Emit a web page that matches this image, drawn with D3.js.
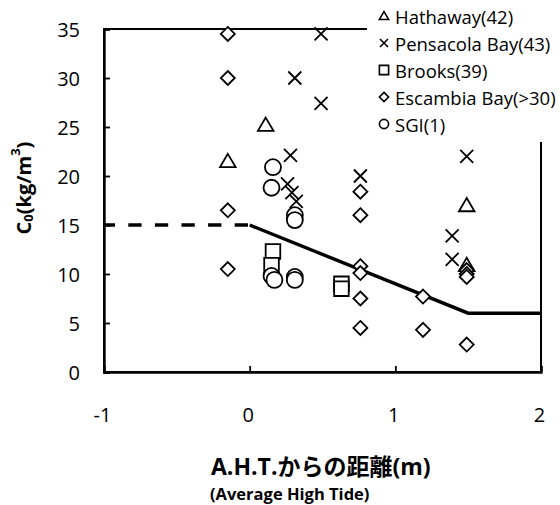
<!DOCTYPE html>
<html>
<head>
<meta charset="utf-8">
<script src="https://cdn.jsdelivr.net/npm/d3@7"></script>
<style>
  html, body { margin: 0; padding: 0; background: #fff; }
  svg { display: block; }
  text { font-family: "Open Sans", "Noto Sans CJK JP", sans-serif; fill: #000; }
</style>
</head>
<body>
<svg id="chart" width="560" height="505"></svg>
<script>
// Observed chloride content C0 vs. distance from average high tide, by site
const hathaway  = [[-0.15, 21.5], [0.11, 25.2], [1.49, 17.0], [1.49, 10.9]];
const pensacola = [[0.49, 34.5], [0.31, 30.0], [0.49, 27.4], [0.28, 22.1], [0.26, 19.2],
                   [0.29, 18.3], [0.32, 17.4], [0.76, 20.0], [1.49, 22.0], [1.39, 13.9], [1.39, 11.5]];
const brooks    = [[0.16, 12.3], [0.15, 10.9], [0.63, 9.0], [0.63, 8.5]];
const escambia  = [[-0.15, 34.5], [-0.15, 30.0], [-0.15, 16.5], [-0.15, 10.5], [0.76, 18.4],
                   [0.76, 16.0], [0.76, 10.8], [0.76, 10.1], [0.76, 7.5], [0.76, 4.5],
                   [1.19, 7.7], [1.19, 4.3], [1.49, 10.4], [1.49, 10.0], [1.49, 9.7], [1.49, 2.8]];
const sgi       = [[0.16, 20.9], [0.15, 18.8], [0.31, 16.0], [0.31, 15.5],
                   [0.15, 9.8], [0.17, 9.4], [0.31, 9.7], [0.31, 9.4]];

// Design curve: constant offshore (dashed), decreasing, then constant inland
const designDashed = [[-1, 15], [0, 15]];
const designSolid  = [[0, 15], [1.5, 6], [2, 6]];

const seriesNames = ["Hathaway(42)", "Pensacola Bay(43)", "Brooks(39)", "Escambia Bay(>30)", "SGI(1)"];
const seriesShapes = ["triangle", "cross", "square", "diamond", "circle"];
const xTicks = [-1, 0, 1, 2];
const yTicks = [0, 5, 10, 15, 20, 25, 30, 35];

const svg = d3.select("#chart");
const x = d3.scaleLinear().domain([-1, 2]).range([104, 541]);
const y = d3.scaleLinear().domain([0, 35]).range([372, 29]);

// marker path generators (s = half extent in px)
function shapePath(shape, s) {
  switch (shape) {
    case "triangle": return `M0,${-s * 0.95} L${s},${s * 0.75} L${-s},${s * 0.75} Z`;
    case "cross":    return `M${-s},${-s} L${s},${s} M${s},${-s} L${-s},${s}`;
    case "square":   return `M${-s},${-s} H${s} V${s} H${-s} Z`;
    case "diamond":  return `M0,${-s} L${s},0 L0,${s} L${-s},0 Z`;
    case "circle":   return `M${s},0 A${s},${s} 0 1,1 ${-s},0 A${s},${s} 0 1,1 ${s},0 Z`;
  }
}
const markerSize = { triangle: 7.8, cross: 6.5, square: 7.3, diamond: 7, circle: 8 };

// plot frame
svg.append("rect")
  .attr("x", x(-1)).attr("y", y(35))
  .attr("width", x(2) - x(-1)).attr("height", y(0) - y(35))
  .attr("fill", "none").attr("stroke", "#000").attr("stroke-width", 2);

// axes (ticks pointing inward)
const yAxis = svg.append("g").attr("transform", `translate(${x(-1)},0)`)
  .call(d3.axisRight(y).tickValues(yTicks).tickSize(6).tickFormat(""));
yAxis.select(".domain").attr("stroke-width", 2.4);
yAxis.selectAll(".tick line").attr("stroke-width", 1.8);

const xAxis = svg.append("g").attr("transform", `translate(0,${y(0)})`)
  .call(d3.axisTop(x).tickValues(xTicks).tickSize(6).tickFormat(""));
xAxis.select(".domain").attr("stroke-width", 2.4);
xAxis.selectAll(".tick line").attr("stroke-width", 1.8);

// tick labels
svg.append("g").selectAll("text").data(yTicks).join("text")
  .attr("x", 80).attr("y", d => y(d)).attr("text-anchor", "end")
  .attr("dominant-baseline", "central").attr("font-size", 20).text(d => d);
svg.append("g").selectAll("text").data(xTicks).join("text")
  .attr("x", d => x(d) - 1.5).attr("y", 414).attr("text-anchor", "middle")
  .attr("dominant-baseline", "central").attr("font-size", 20).text(d => d);

// design curve
const line = d3.line().x(d => x(d[0])).y(d => y(d[1]));
svg.append("path").datum(designDashed).attr("d", line)
  .attr("fill", "none").attr("stroke", "#000").attr("stroke-width", 3.4)
  .attr("stroke-dasharray", "13.3,13.3").attr("stroke-dashoffset", 2.3);
svg.append("path").datum(designSolid).attr("d", line)
  .attr("fill", "none").attr("stroke", "#000").attr("stroke-width", 3.4);

// scatter series, drawn in series order
const allSeries = [hathaway, pensacola, brooks, escambia, sgi];
allSeries.forEach((data, i) => {
  const shape = seriesShapes[i];
  svg.append("g").selectAll("path").data(data).join("path")
    .attr("transform", d => `translate(${x(d[0])},${y(d[1])})`)
    .attr("d", shapePath(shape, markerSize[shape]))
    .attr("fill", shape === "cross" ? "none" : "#fff")
    .attr("stroke", "#000").attr("stroke-width", 1.8);
});

// legend (white box over the top-right corner of the frame)
const legend = svg.append("g");
legend.append("rect").attr("x", 367).attr("y", 0).attr("width", 193).attr("height", 142).attr("fill", "#fff");
seriesNames.forEach((name, i) => {
  const cy = 16 + i * 27;
  const shape = seriesShapes[i];
  legend.append("path")
    .attr("transform", `translate(384,${cy})`)
    .attr("d", shapePath(shape, shape === "cross" ? 4 : 4.6))
    .attr("fill", "none").attr("stroke", "#000").attr("stroke-width", 1.6);
  legend.append("text").attr("x", 395).attr("y", cy)
    .attr("dominant-baseline", "central").attr("font-size", 18.5).text(name);
});

// axis titles
const yt = svg.append("text")
  .attr("transform", "translate(23,188) rotate(-90)")
  .attr("text-anchor", "middle").attr("dominant-baseline", "central")
  .attr("font-size", 20).attr("font-weight", 700);
yt.append("tspan").text("C");
yt.append("tspan").attr("font-size", 13).attr("dy", 5).text("0");
yt.append("tspan").attr("dy", -5).text("(kg/m");
yt.append("tspan").attr("font-size", 13).attr("dy", -8).text("3");
yt.append("tspan").attr("dy", 8).text(")");

svg.append("text").attr("x", 211).attr("y", 466)
  .attr("dominant-baseline", "central").attr("font-size", 23).attr("font-weight", 700)
  .text("A.H.T.からの距離(m)");
svg.append("text").attr("x", 210).attr("y", 493)
  .attr("dominant-baseline", "central").attr("font-size", 16.5).attr("font-weight", 700)
  .text("(Average High Tide)");
</script>
</body>
</html>
